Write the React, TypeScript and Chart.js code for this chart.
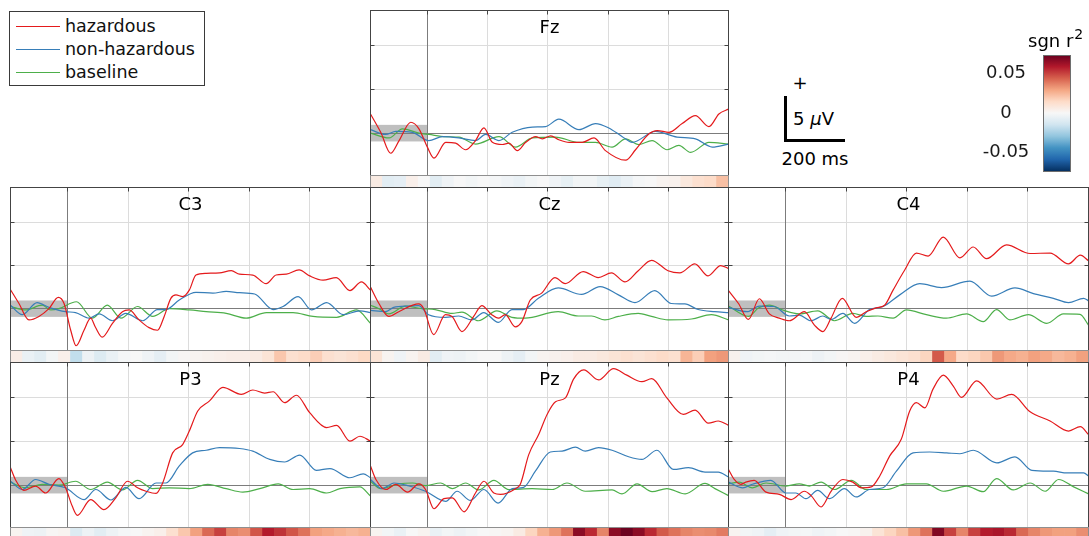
import React, { useEffect, useRef } from "react";
import { Chart, registerables } from "chart.js";

Chart.register(...registerables);

// ---------- axis settings ----------
const X_MIN = -190;
const X_MAX = 1000;
const Y_MIN = -4.85;
const Y_MAX = 14.05;
const X_GRID = [0, 200, 400, 600, 800];
const Y_GRID = [5, 10];
const BASE_WIN = [-200, 0];
const BASE_BAND = [-0.95, 0.95];
const R2_LIM = 0.073;
const R2_TICKS = [0.05, 0, -0.05];
const SCALE_UV = 5;
const SCALE_MS = 200;

const SERIES_NAMES = ["hazardous", "non-hazardous", "baseline"];
const SERIES_COLORS = ["#e41a1c", "#377eb8", "#4daf4a"];

type P = [number, number];

// ---------- ERP data: [time ms, amplitude µV] ----------
const FZ_HAZ: P[] = [[-190,2.2],[-156,0.1],[-123,-2.3],[-95,-0.85],[-56,1.25],[-29,0.5],[-1,-1.6],[21,-2.85],[60,-1.05],[93,-1.15],[126,-1.9],[159,-0.85],[187,0.6],[215,-1.05],[248,-1.3],[270,-1.15],[298,-2.0],[326,-1.05],[359,-0.4],[381,-0.65],[409,-0.3],[436,-0.75],[470,-1.05],[514,-1.05],[553,-0.55],[591,-2.0],[658,-3.1],[691,-1.9],[735,-0.1],[763,0.3],[802,0.1],[846,1.1],[890,2.0],[935,0.75],[968,2.2],[1000,2.75]];
const FZ_NON: P[] = [[-190,0.4],[-140,-0.15],[-106,0.2],[-51,0.1],[4,-0.85],[49,-0.4],[104,-0.55],[159,-0.85],[193,-0.15],[237,-0.85],[281,0.1],[348,0.7],[392,0.75],[436,1.6],[503,0.4],[558,1.1],[602,0.6],[647,-0.4],[680,-1.05],[757,0.2],[829,-0.45],[890,-0.65],[946,-1.6],[1000,-1.25]];
const FZ_BASE: P[] = [[-190,0],[-128,-0.55],[-84,0.5],[-29,0],[4,-0.15],[60,-0.4],[104,-0.45],[159,-1.25],[237,-0.4],[292,-1.6],[348,-0.55],[425,-0.45],[503,-1.05],[558,-1.05],[613,-1.6],[658,-0.65],[702,-1.3],[746,-0.85],[796,-1.9],[835,-1.4],[874,-2.2],[935,-1.05],[1000,-1.25]];

const C3_HAZ: P[] = [[-190,2.2],[-162,0.6],[-129,-1.3],[-96,-0.9],[-63,0],[-32,1.3],[-13,0.6],[9,-2.5],[27,-4.3],[53,-2.5],[75,-1.1],[90,-2.1],[113,-3.3],[147,-1.7],[180,-0.35],[202,-0.15],[235,-1.3],[268,-2.2],[296,-2.5],[318,-0.9],[340,1.2],[357,1.6],[379,1.4],[401,2.15],[423,3.9],[457,4.1],[501,4.15],[540,4.4],[567,4.0],[611,3.9],[655,2.9],[688,3.9],[722,4.0],[764,4.5],[799,3.8],[843,3.3],[887,3.6],[932,2.1],[970,3.1],[1000,2.15]];
const C3_NON: P[] = [[-190,0.4],[-151,-0.7],[-102,0.7],[-63,0.15],[-8,-0.35],[25,-0.45],[70,-1.1],[103,-0.6],[147,-1.4],[191,-0.55],[247,-1.4],[296,-0.1],[324,-0.1],[368,1.0],[423,1.9],[479,1.8],[523,2.0],[567,1.85],[617,1.7],[678,-0.1],[711,0.25],[761,1.4],[805,-0.15],[855,0.7],[910,-0.7],[965,-0.25],[1000,-0.45]];
const C3_BASE: P[] = [[-190,0.25],[-140,-0.15],[-85,0.4],[-57,-0.15],[-30,0],[28,0.8],[81,-1.1],[130,0.4],[175,-1.1],[230,0.25],[280,-0.9],[335,0],[401,-0.15],[457,-0.35],[523,-0.55],[589,-1.1],[656,-0.45],[744,-0.45],[810,-0.9],[888,-1.0],[954,-0.15],[1000,-1.7]];

const CZ_HAZ: P[] = [[-190,2.5],[-162,0.6],[-129,-0.9],[-96,-0.35],[-30,0.55],[-13,0],[20,-3.0],[59,-0.7],[81,-0.9],[114,-2.65],[153,-0.9],[180,0.35],[213,-0.7],[235,-1.1],[258,-0.7],[291,-2.1],[313,-1.5],[341,1.0],[379,1.8],[423,3.6],[457,2.9],[517,4.3],[567,3.6],[611,4.15],[656,3.1],[700,4.4],[744,5.6],[799,4.4],[838,4.15],[888,5.2],[932,3.8],[974,5.0],[1000,4.65]];
const CZ_NON: P[] = [[-190,-0.2],[-140,-0.35],[-113,0.15],[-63,0.3],[-30,0.35],[3,-0.7],[59,-1.0],[103,-0.85],[147,-1.3],[186,-0.45],[235,-1.6],[280,-0.1],[318,-0.1],[368,1.2],[434,2.4],[512,1.65],[573,2.55],[634,1.6],[689,0.7],[755,2.1],[810,0.6],[855,0.55],[899,-0.1],[954,-0.35],[1000,-0.45]];
const CZ_BASE: P[] = [[-190,0.4],[-162,0],[-129,-0.6],[-74,0.3],[-19,0],[25,-0.1],[81,-0.55],[114,-0.4],[169,-1.4],[230,-0.25],[280,-1.0],[324,-1.1],[434,-0.35],[501,-0.85],[545,-0.85],[589,-1.3],[634,-0.9],[700,-0.55],[744,-0.9],[799,-1.3],[877,-1.2],[943,-0.7],[1000,-1.3]];

const C4_HAZ: P[] = [[-190,2.1],[-157,0.6],[-124,-1.25],[-88,1.15],[-55,-0.6],[-22,-1.1],[11,-1.4],[61,-0.35],[94,-1.9],[122,-2.65],[149,-1.1],[186,1.2],[232,-1.0],[265,-0.35],[298,0.1],[326,0.4],[354,2.15],[392,4.45],[431,6.45],[470,6.1],[520,8.3],[575,5.9],[619,7.15],[663,5.8],[729,7.4],[807,6.4],[873,6.45],[934,5.2],[973,6.2],[1000,5.55]];
const C4_NON: P[] = [[-190,0.15],[-129,-0.35],[-88,0.3],[-39,0.25],[11,-0.85],[44,-0.75],[83,-1.4],[122,-0.85],[149,-1.25],[188,-0.55],[227,-1.7],[276,-0.1],[321,0.25],[376,1.6],[442,2.9],[514,2.45],[608,3.2],[680,1.45],[757,2.4],[818,1.75],[884,1.2],[934,0.7],[984,1.2],[1000,0.9]];
const C4_BASE: P[] = [[-190,0.3],[-124,-0.9],[-90,0.1],[-55,0.4],[-11,-0.15],[44,-0.6],[105,-0.25],[160,-1.4],[221,-0.55],[265,-0.9],[304,-0.85],[354,-1.1],[398,-0.15],[464,-0.7],[530,-1.1],[597,-0.6],[652,-1.5],[696,-0.1],[740,-1.3],[801,-0.7],[862,-1.7],[917,-0.6],[972,-0.65],[1000,-1.9]];

const P3_HAZ: P[] = [[-190,2.0],[-174,0.65],[-146,-0.6],[-107,-0.1],[-74,-0.9],[-30,0.75],[-8,-0.3],[14,-2.4],[31,-3.45],[75,-1.65],[119,-2.8],[158,-1.45],[197,0.45],[230,-0.3],[258,-0.7],[291,-0.95],[313,0.25],[346,3.7],[379,4.65],[401,6.2],[429,8.5],[468,9.65],[512,11.2],[573,10.4],[611,10.9],[650,10.55],[678,10.7],[716,9.45],[755,10.3],[799,8.3],[855,6.6],[888,6.85],[932,5.05],[965,5.6],[1000,5.05]];
const P3_NON: P[] = [[-190,0.45],[-151,-0.5],[-107,0.65],[-63,0.1],[-8,-0.3],[53,-1.65],[92,-0.5],[142,-1.7],[191,-0.25],[235,-1.55],[291,0.25],[324,0.25],[368,2.2],[412,3.7],[457,4.0],[501,4.3],[567,4.2],[611,3.9],[667,2.95],[716,2.65],[766,3.45],[821,1.7],[866,1.9],[932,0.85],[976,1.3],[1000,0.85]];
const P3_BASE: P[] = [[-190,0.35],[-140,-0.3],[-85,0.1],[-30,0],[25,0.45],[75,-0.5],[130,0.35],[180,-0.55],[230,0.55],[280,-0.4],[335,-0.3],[401,-0.4],[462,0.1],[523,-0.4],[578,-0.8],[634,-0.4],[695,0.15],[744,-0.5],[799,-0.4],[855,-0.9],[899,-0.4],[965,-0.2],[1000,-1.25]];

const PZ_HAZ: P[] = [[-190,2.2],[-172,0.65],[-139,-0.5],[-106,0.1],[-67,-0.8],[-29,0.15],[-7,-0.5],[21,-2.7],[54,-1.55],[82,-1.45],[121,-3.05],[159,-0.9],[187,0.45],[220,-0.9],[242,-1.05],[292,-0.4],[308,0.1],[336,3.5],[369,5.8],[397,8.1],[425,9.55],[458,10.0],[485,12.15],[519,13.2],[568,12.05],[618,13.35],[662,12.6],[712,11.85],[745,12.2],[795,10.0],[850,8.1],[889,8.6],[933,7.1],[966,7.35],[1000,6.85]];
const PZ_NON: P[] = [[-190,0.65],[-151,-0.4],[-112,0.25],[-62,-0.1],[-7,-0.7],[60,-1.85],[98,-0.7],[142,-1.75],[187,-0.5],[234,-2.05],[281,-0.4],[319,-0.25],[358,1.6],[408,3.8],[447,3.9],[491,4.35],[524,3.9],[568,4.3],[613,4.0],[668,3.25],[712,2.95],[762,4.0],[817,1.8],[867,2.0],[922,1.5],[966,1.5],[1000,0.95]];
const PZ_BASE: P[] = [[-190,0.45],[-156,-0.4],[-95,0.15],[-51,0.25],[-7,-0.05],[43,0.25],[82,-0.4],[126,0.25],[170,-0.55],[220,0.55],[270,-0.5],[347,-0.4],[414,-0.5],[463,0.25],[524,-0.7],[613,-0.55],[646,-1.0],[696,0.15],[746,-0.75],[795,-0.4],[856,-1.0],[922,0.2],[955,-0.4],[1000,-1.2]];

const P4_HAZ: P[] = [[-190,1.8],[-171,0.65],[-149,0.1],[-133,0.35],[-105,0.55],[-66,-0.8],[-22,-1.05],[17,-1.65],[61,-0.7],[83,-1.2],[116,-2.5],[149,-0.7],[188,0.65],[221,0.35],[249,-0.3],[282,-0.2],[310,1.05],[343,3.35],[381,5.25],[409,8.5],[431,9.45],[459,8.85],[486,11.0],[520,12.6],[553,11.35],[580,10.05],[630,11.95],[697,9.85],[746,10.4],[807,8.4],[873,7.35],[934,6.2],[973,6.7],[1000,5.8]];
const P4_NON: P[] = [[-190,0.35],[-143,-0.3],[-111,0.1],[-50,0.55],[0,-0.9],[33,-0.9],[66,-1.55],[105,-0.6],[144,-1.55],[193,-0.4],[232,-1.35],[276,-0.5],[321,-0.3],[365,1.6],[420,3.7],[475,3.8],[531,3.7],[575,3.6],[619,4.0],[697,2.55],[757,3.25],[813,1.7],[884,1.6],[929,1.4],[984,1.4],[1000,1.05]];
const P4_BASE: P[] = [[-190,0.15],[-155,0.35],[-111,-0.3],[-66,0.25],[0,-0.1],[44,0.15],[77,-0.1],[116,0.35],[160,-0.5],[216,0.55],[265,-0.5],[332,-0.5],[398,0.15],[464,0.15],[520,-0.7],[597,-0.1],[652,-0.75],[696,0.75],[751,-0.55],[807,0.25],[857,-0.7],[901,0.65],[951,-0.2],[1000,-1.0]];

// ---------- signed r² per time bin (30 bins spanning X_MIN..X_MAX) ----------
const FZ_R2 = [0.006,-0.008,-0.007,0.004,0,-0.008,-0.003,0,-0.002,0,-0.001,-0.003,-0.005,-0.002,0,-0.003,-0.006,-0.002,-0.002,-0.006,-0.009,-0.005,-0.001,0,0.002,0.003,0.008,0.012,0.014,0.022];
const C3_R2 = [0.005,-0.005,-0.008,-0.002,0.004,-0.018,-0.004,-0.01,-0.005,-0.001,0,-0.003,-0.007,-0.002,0.001,0.002,0.003,0.004,0.005,0.005,0.006,0.01,0.02,0.012,0.014,0.018,0.012,0.01,0.012,0.015];
const CZ_R2 = [0.01,0.002,-0.003,0.002,0.006,-0.008,-0.003,-0.004,-0.002,0,0,-0.004,-0.007,-0.002,0.002,0.003,0.004,0.006,0.006,0.008,0.01,0.012,0.01,0.012,0.014,0.012,0.025,0.018,0.03,0.032];
const C4_R2 = [0.003,-0.003,-0.002,-0.001,-0.002,-0.002,-0.001,-0.004,-0.002,0.001,0.002,0.004,0.006,0.008,0.01,0.012,0.016,0.045,0.028,0.014,0.016,0.02,0.032,0.028,0.026,0.03,0.028,0.024,0.026,0.03];
const P3_R2 = [0.002,-0.003,-0.004,0.001,0.002,-0.01,-0.004,-0.008,-0.004,-0.001,0,0.002,0.004,0.012,0.02,0.03,0.042,0.05,0.036,0.034,0.046,0.058,0.053,0.046,0.04,0.03,0.028,0.026,0.024,0.026];
const PZ_R2 = [0.002,-0.002,-0.005,0,0.002,-0.005,-0.002,-0.004,-0.002,0,0.001,0.002,0.006,0.016,0.026,0.032,0.04,0.066,0.055,0.036,0.066,0.072,0.066,0.055,0.045,0.04,0.036,0.034,0.035,0.038];
const P4_R2 = [0.002,-0.002,-0.003,-0.007,-0.003,-0.002,-0.001,-0.003,-0.002,0,0.001,0.003,0.01,0.016,0.022,0.032,0.04,0.068,0.05,0.036,0.05,0.058,0.06,0.055,0.042,0.036,0.032,0.03,0.03,0.034];

// ---------- layout ----------
const FONT = '"DejaVu Sans", sans-serif';
const STRIP_H = 12;

type PanelDef = {
  name: string; haz: P[]; non: P[]; base: P[]; r2: number[];
  left: number; top: number; w: number; h: number;
};

const PANELS: PanelDef[] = [
  { name: "Fz", haz: FZ_HAZ, non: FZ_NON, base: FZ_BASE, r2: FZ_R2, left: 370, top: 10, w: 358, h: 165 },
  { name: "C3", haz: C3_HAZ, non: C3_NON, base: C3_BASE, r2: C3_R2, left: 10, top: 187, w: 360, h: 163 },
  { name: "Cz", haz: CZ_HAZ, non: CZ_NON, base: CZ_BASE, r2: CZ_R2, left: 370, top: 187, w: 358, h: 163 },
  { name: "C4", haz: C4_HAZ, non: C4_NON, base: C4_BASE, r2: C4_R2, left: 728, top: 187, w: 360, h: 163 },
  { name: "P3", haz: P3_HAZ, non: P3_NON, base: P3_BASE, r2: P3_R2, left: 10, top: 362, w: 360, h: 165 },
  { name: "Pz", haz: PZ_HAZ, non: PZ_NON, base: PZ_BASE, r2: PZ_R2, left: 370, top: 362, w: 358, h: 165 },
  { name: "P4", haz: P4_HAZ, non: P4_NON, base: P4_BASE, r2: P4_R2, left: 728, top: 362, w: 360, h: 165 },
];

// RdBu colormap (blue negative, red positive)
const RDBU = ["#053061", "#2166ac", "#4393c3", "#92c5de", "#d1e5f0", "#f7f7f7", "#fddbc7", "#f4a582", "#d6604d", "#b2182b", "#67001f"];
function hexToRgb(h: string) {
  return [parseInt(h.slice(1, 3), 16), parseInt(h.slice(3, 5), 16), parseInt(h.slice(5, 7), 16)];
}
function r2Color(v: number) {
  const t = Math.max(0, Math.min(1, (v + R2_LIM) / (2 * R2_LIM)));
  const pos = t * (RDBU.length - 1);
  const i = Math.min(RDBU.length - 2, Math.floor(pos));
  const f = pos - i;
  const a = hexToRgb(RDBU[i]);
  const b = hexToRgb(RDBU[i + 1]);
  const c = a.map((x, k) => Math.round(x + (b[k] - x) * f));
  return `rgb(${c[0]},${c[1]},${c[2]})`;
}

const crisp = (v: number) => Math.round(v - 0.5) + 0.5;

function panelPlugin(name: string) {
  return {
    id: "panelDecor",
    beforeDatasetsDraw(chart: any) {
      const { ctx, chartArea: a } = chart;
      const xs = chart.scales.x;
      const ys = chart.scales.y;
      ctx.save();
      ctx.lineWidth = 1;
      ctx.strokeStyle = "#dcdcdc";
      for (const v of X_GRID) {
        if (v === 0) continue;
        const px = crisp(xs.getPixelForValue(v));
        ctx.beginPath(); ctx.moveTo(px, a.top); ctx.lineTo(px, a.bottom); ctx.stroke();
      }
      for (const v of Y_GRID) {
        const py = crisp(ys.getPixelForValue(v));
        ctx.beginPath(); ctx.moveTo(a.left, py); ctx.lineTo(a.right, py); ctx.stroke();
      }
      // baseline window box
      const bx0 = Math.max(a.left, xs.getPixelForValue(BASE_WIN[0]));
      const bx1 = xs.getPixelForValue(BASE_WIN[1]);
      const by0 = ys.getPixelForValue(BASE_BAND[1]);
      const by1 = ys.getPixelForValue(BASE_BAND[0]);
      ctx.fillStyle = "#bfbfbf";
      ctx.fillRect(bx0, by0, bx1 - bx0, by1 - by0);
      // zero line and stimulus onset
      ctx.strokeStyle = "#7c7c7c";
      const zy = crisp(ys.getPixelForValue(0));
      ctx.beginPath(); ctx.moveTo(a.left, zy); ctx.lineTo(a.right, zy); ctx.stroke();
      const ox = crisp(xs.getPixelForValue(0));
      ctx.beginPath(); ctx.moveTo(ox, a.top); ctx.lineTo(ox, a.bottom); ctx.stroke();
      ctx.restore();
    },
    afterDraw(chart: any) {
      const { ctx, chartArea: a } = chart;
      const xs = chart.scales.x;
      const ys = chart.scales.y;
      ctx.save();
      ctx.strokeStyle = "#444";
      ctx.lineWidth = 1;
      ctx.strokeRect(a.left, a.top, a.right - a.left, a.bottom - a.top);
      const TL = 4;
      for (const v of X_GRID) {
        const px = crisp(xs.getPixelForValue(v));
        ctx.beginPath(); ctx.moveTo(px, a.top); ctx.lineTo(px, a.top + TL); ctx.stroke();
      }
      for (const v of Y_GRID) {
        const py = crisp(ys.getPixelForValue(v));
        ctx.beginPath(); ctx.moveTo(a.left, py); ctx.lineTo(a.left + TL, py); ctx.stroke();
        ctx.beginPath(); ctx.moveTo(a.right, py); ctx.lineTo(a.right - TL, py); ctx.stroke();
      }
      ctx.fillStyle = "#000";
      ctx.font = `18px ${FONT}`;
      ctx.textAlign = "center";
      ctx.textBaseline = "alphabetic";
      ctx.fillText(name, (a.left + a.right) / 2, a.top + 22);
      ctx.restore();
    },
  };
}

const stripPlugin = {
  id: "stripFrame",
  afterDraw(chart: any) {
    const { ctx, chartArea: a } = chart;
    ctx.save();
    ctx.strokeStyle = "#8f8f8f";
    ctx.lineWidth = 1;
    ctx.strokeRect(a.left, a.top, a.right - a.left, a.bottom - a.top);
    ctx.restore();
  },
};

function Panel({ p }: { p: PanelDef }) {
  const ref = useRef<HTMLCanvasElement>(null);
  const sref = useRef<HTMLCanvasElement>(null);
  useEffect(() => {
    const series = [p.haz, p.non, p.base];
    const chart = new Chart(ref.current as HTMLCanvasElement, {
      type: "line",
      data: {
        datasets: series.map((s, i) => ({
          label: SERIES_NAMES[i],
          data: s.map(([x, y]) => ({ x, y })),
          borderColor: SERIES_COLORS[i],
          borderWidth: 1.2,
          pointRadius: 0,
          fill: false,
          cubicInterpolationMode: "monotone" as const,
        })),
      },
      options: {
        responsive: false,
        animation: false,
        devicePixelRatio: 1,
        events: [],
        layout: { padding: 0.5 },
        plugins: { legend: { display: false }, tooltip: { enabled: false } },
        scales: {
          x: { type: "linear", min: X_MIN, max: X_MAX, display: false },
          y: { type: "linear", min: Y_MIN, max: Y_MAX, display: false },
        },
      },
      plugins: [panelPlugin(p.name)],
    } as any);
    const strip = new Chart(sref.current as HTMLCanvasElement, {
      type: "bar",
      data: {
        labels: p.r2.map((_, i) => String(i)),
        datasets: [{
          data: p.r2.map(() => 1),
          backgroundColor: p.r2.map(r2Color),
          borderWidth: 0,
          barPercentage: 1,
          categoryPercentage: 1,
        }],
      },
      options: {
        responsive: false,
        animation: false,
        devicePixelRatio: 1,
        events: [],
        layout: { padding: 0.5 },
        plugins: { legend: { display: false }, tooltip: { enabled: false } },
        scales: {
          x: { display: false },
          y: { display: false, min: 0, max: 1 },
        },
      },
      plugins: [stripPlugin],
    } as any);
    return () => { chart.destroy(); strip.destroy(); };
  }, [p]);
  return (
    <>
      <canvas ref={ref} width={p.w + 1} height={p.h + 1}
        style={{ position: "absolute", left: p.left, top: p.top, width: p.w + 1, height: p.h + 1 }} />
      <canvas ref={sref} width={p.w + 1} height={STRIP_H + 1}
        style={{ position: "absolute", left: p.left, top: p.top + p.h, width: p.w + 1, height: STRIP_H + 1 }} />
    </>
  );
}

function ColorBar() {
  const ref = useRef<HTMLCanvasElement>(null);
  useEffect(() => {
    const chart = new Chart(ref.current as HTMLCanvasElement, {
      type: "line",
      data: { datasets: [] },
      options: {
        responsive: false,
        animation: false,
        devicePixelRatio: 1,
        events: [],
        layout: { padding: { left: 63, right: 19, top: 30, bottom: 4 } },
        plugins: { legend: { display: false }, tooltip: { enabled: false } },
        scales: {
          x: { type: "linear", display: false, min: 0, max: 1 },
          y: { type: "linear", display: false, min: -R2_LIM, max: R2_LIM },
        },
      },
      plugins: [{
        id: "cbar",
        afterDraw(c: any) {
          const { ctx, chartArea: a } = c;
          const ys = c.scales.y;
          ctx.save();
          const g = ctx.createLinearGradient(0, a.top, 0, a.bottom);
          const N = 40;
          for (let i = 0; i <= N; i++) {
            g.addColorStop(i / N, r2Color(R2_LIM - (i / N) * 2 * R2_LIM));
          }
          ctx.fillStyle = g;
          ctx.fillRect(a.left, a.top, a.right - a.left, a.bottom - a.top);
          ctx.strokeStyle = "#6e6e6e";
          ctx.lineWidth = 1;
          ctx.strokeRect(crisp(a.left), crisp(a.top), Math.round(a.right - a.left), Math.round(a.bottom - a.top));
          ctx.fillStyle = "#1a1a1a";
          ctx.font = `18px ${FONT}`;
          ctx.textAlign = "center";
          ctx.textBaseline = "middle";
          for (const v of R2_TICKS) {
            ctx.fillText(v === 0 ? "0" : v.toFixed(2), a.left - 37, ys.getPixelForValue(v));
          }
          ctx.textAlign = "left";
          ctx.textBaseline = "alphabetic";
          ctx.fillStyle = "#000";
          ctx.fillText("sgn r", a.left - 15, a.top - 8);
          const wsr = ctx.measureText("sgn r").width;
          ctx.font = `14px ${FONT}`;
          ctx.fillText("2", a.left - 15 + wsr + 1, a.top - 16);
          ctx.restore();
        },
      }],
    } as any);
    return () => chart.destroy();
  }, []);
  return (
    <canvas ref={ref} width={109} height={150}
      style={{ position: "absolute", left: 980, top: 25, width: 109, height: 150 }} />
  );
}

function Legend() {
  return (
    <div style={{ position: "absolute", left: 9, top: 11, width: 194, height: 73, border: "1px solid #3a3a3a", background: "#fff" }}>
      {SERIES_NAMES.map((n, i) => (
        <div key={n} style={{ position: "absolute", left: 0, top: 2.5 + i * 23, height: 23, width: 194 }}>
          <div style={{ position: "absolute", left: 6, top: 11, width: 44, height: 1, background: SERIES_COLORS[i] }} />
          <span style={{ position: "absolute", left: 55, top: 0, lineHeight: "23px", fontSize: 17.5, whiteSpace: "nowrap", color: "#111" }}>{n}</span>
        </div>
      ))}
    </div>
  );
}

function ScaleBar() {
  const pxPerUV = 164 / (Y_MAX - Y_MIN);
  const pxPerMs = 359 / (X_MAX - X_MIN);
  const barH = SCALE_UV * pxPerUV + 3;
  const barW = SCALE_MS * pxPerMs + 1;
  const cornerX = 784;
  const cornerY = 142;
  return (
    <>
      <div style={{ position: "absolute", left: cornerX, top: cornerY - barH, width: 3, height: barH, background: "#000" }} />
      <div style={{ position: "absolute", left: cornerX, top: cornerY - 3, width: barW, height: 3, background: "#000" }} />
      <div style={{ position: "absolute", left: 790, top: 72, width: 20, textAlign: "center", lineHeight: "22px", fontSize: 18 }}>+</div>
      <div style={{ position: "absolute", left: 793, top: 108, lineHeight: "22px", fontSize: 18, whiteSpace: "nowrap" }}>
        {SCALE_UV} <i>µ</i>V
      </div>
      <div style={{ position: "absolute", left: 765, top: 148, width: 100, textAlign: "center", lineHeight: "22px", fontSize: 18, whiteSpace: "nowrap" }}>
        {SCALE_MS} ms
      </div>
    </>
  );
}

export default function App() {
  return (
    <div style={{ position: "absolute", left: 0, top: 0, width: 1089, height: 536, overflow: "hidden", background: "#fff", fontFamily: FONT, color: "#000" }}>
      {PANELS.map((p) => <Panel key={p.name} p={p} />)}
      <Legend />
      <ScaleBar />
      <ColorBar />
    </div>
  );
}
